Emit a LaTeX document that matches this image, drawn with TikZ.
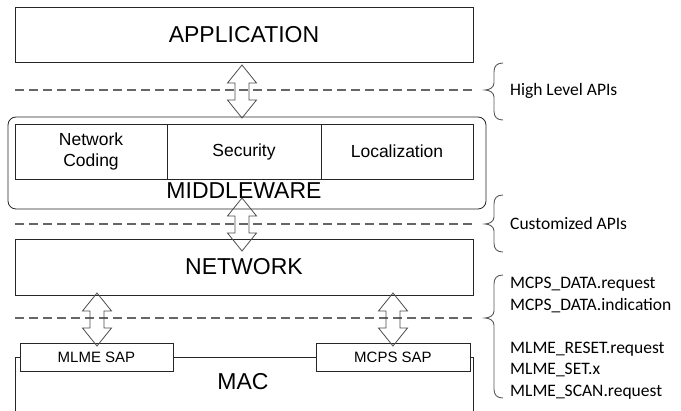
\documentclass[tikz,border=0pt]{standalone}
\usepackage{fontspec}
\setmainfont{Liberation Sans}
\newfontfamily\calibrifont{Carlito}
\begin{document}
\begin{tikzpicture}[x=1pt,y=-1pt,
  box/.style={draw=black!85,line width=0.8pt,inner sep=0pt},
  bigtxt/.style={font=\fontsize{23}{27}\selectfont},
  midtxt/.style={font=\fontsize{17.5}{21.5}\selectfont,align=center},
  saptxt/.style={font=\fontsize{15}{18}\selectfont},
  apitxt/.style={font=\calibrifont\fontsize{17.5}{21}\selectfont,anchor=base west,inner sep=0pt},
  layerline/.style={draw=black!60,line width=1.2pt,dash pattern=on 9pt off 5pt},
  bracel/.style={draw=black!65,line width=0.9pt},
  arrowline/.style={draw=black!70,line width=0.8pt},
  dblarrow/.pic={\path[arrowline] (0,0) -- (14.5,18) -- (7,18) -- (7,35) -- (14.5,35) -- (0,53) -- (-14.5,35) -- (-7,35) -- (-7,18) -- (-14.5,18) -- cycle;}
]
\useasboundingbox (0,0) rectangle (681,411);

% application
\node[box,bigtxt,minimum width=458pt,minimum height=55pt] (app) at (244,34.5) {APPLICATION};

% middleware
\draw[box,rounded corners=8pt] (8,117) rectangle (486,209);
\node[box,midtxt,minimum width=152pt,minimum height=55pt] (nc) at (91,151.5) {Network\\Coding};
\node[box,midtxt,minimum width=154pt,minimum height=55pt] (sec) at (244,151.5) {Security};
\node[box,midtxt,minimum width=152pt,minimum height=55pt] (loc) at (397,151.5) {Localization};
\node[bigtxt,inner sep=0pt] (mw) at (244,191) {MIDDLEWARE};

% network
\node[box,bigtxt,minimum width=458pt,minimum height=56pt] (net) at (244,267) {NETWORK};

% MAC
\node[box,saptxt,minimum width=153pt,minimum height=28pt] (mlme) at (96.5,357) {MLME SAP};
\node[box,saptxt,minimum width=154pt,minimum height=28pt] (mcps) at (393,357) {MCPS SAP};
\coordinate (macbl) at (15,411);
\coordinate (macbr) at (473,411);
\draw[box] (macbl) |- (mlme.west);
\draw[box] (mlme.east) -- (mcps.west);
\draw[box] (macbr) |- (mcps.east);
\node[bigtxt,inner sep=0pt] (mac) at (243,382) {MAC};

% dashed layer lines
\coordinate (d1a) at (15,90);  \coordinate (d1b) at (475,90);
\coordinate (d2a) at (15,224); \coordinate (d2b) at (475,224);
\coordinate (d3a) at (15,318); \coordinate (d3b) at (475,318);
\draw[layerline] (d1a) -- (d1b);
\draw[layerline] (d2a) -- (d2b);
\draw[layerline] (d3a) -- (d3b);

% double arrows
\pic at (242,65) {dblarrow};
\pic at (242,198) {dblarrow};
\pic at (97,293) {dblarrow};
\pic at (393,293) {dblarrow};

% braces
\draw[bracel] (503,63) .. controls (497,63) and (494,66) .. (494,72) -- (494,83)
  .. controls (494,87) and (490,90) .. (485,90)
  .. controls (490,90) and (494,93) .. (494,97) -- (494,111)
  .. controls (494,117) and (497,120) .. (503,120);
\draw[bracel] (503,195) .. controls (497,195) and (494,198) .. (494,204) -- (494,217)
  .. controls (494,221) and (490,224) .. (485,224)
  .. controls (490,224) and (494,227) .. (494,231) -- (494,243)
  .. controls (494,249) and (497,252) .. (503,252);
\draw[bracel] (503,275) .. controls (497,275) and (494,278) .. (494,284) -- (494,311)
  .. controls (494,315) and (490,318) .. (485,318)
  .. controls (490,318) and (494,321) .. (494,325) -- (494,389)
  .. controls (494,395) and (497,398) .. (503,398);

% API labels
\node[apitxt] (hl) at (510,96) {High Level APIs};
\node[apitxt] (cu) at (510,230) {Customized APIs};
\node[apitxt] (l1) at (510,289) {MCPS\_DATA.request};
\node[apitxt] (l2) at (510,310.5) {MCPS\_DATA.indication};
\node[apitxt] (l3) at (510,353.5) {MLME\_RESET.request};
\node[apitxt] (l4) at (510,375) {MLME\_SET.x};
\node[apitxt] (l5) at (510,396.5) {MLME\_SCAN.request};
\end{tikzpicture}
\end{document}
